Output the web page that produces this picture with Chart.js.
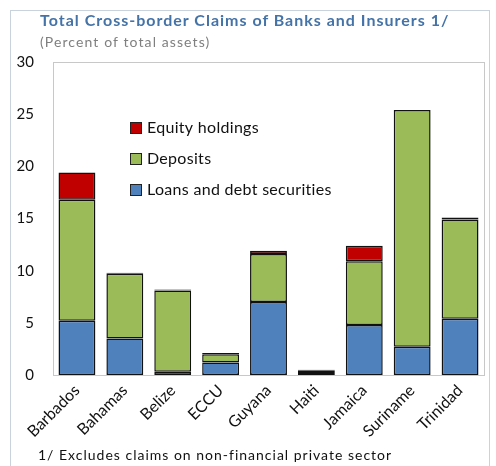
<!DOCTYPE html>
<html>
<head>
<meta charset="utf-8">
<script src="https://cdn.jsdelivr.net/npm/chart.js@4/dist/chart.umd.min.js"></script>
<style>
  html, body { margin: 0; padding: 0; background: #fff; }
  #wrap { position: relative; width: 496px; height: 466px; overflow: hidden; }
  #frame { position: absolute; left: 10px; top: 10px; width: 480px; height: 470px; border: 1px solid #c9d3dc; box-sizing: border-box; }
  canvas { position: absolute; left: 0; top: 0; }
  .t { position: absolute; white-space: nowrap; font-family: Lato, "Open Sans", sans-serif; }
  #title { left: 40px; top: 10px; font-size: 16px; font-weight: bold; color: #4473a8; letter-spacing: 1px; }
  #sub { left: 40px; top: 33px; font-size: 14px; color: #7f7f7f; letter-spacing: 1.1px; }
  #foot { left: 38px; top: 446px; font-size: 14px; color: #111; letter-spacing: 1px; }
</style>
</head>
<body>
<div id="wrap">
  <div id="frame"></div>
  <canvas id="c" width="496" height="466"></canvas>
  <div class="t" id="title">Total Cross-border Claims of Banks and Insurers 1/</div>
  <div class="t" id="sub">(Percent of total assets)</div>
  <div class="t" id="foot">1/ Excludes claims on non-financial private sector</div>
</div>
<script>
const categories = ["Barbados", "Bahamas", "Belize", "ECCU", "Guyana", "Haiti", "Jamaica", "Suriname", "Trinidad"];
const loans    = [5.2, 3.5, 0.3, 1.2, 7.0, 0.2, 4.8, 2.7, 5.4];
const deposits = [11.6, 6.2, 7.8, 0.8, 4.6, 0.2, 6.1, 22.7, 9.5];
const equity   = [2.6, 0.1, 0.1, 0.1, 0.3, 0.1, 1.5, 0.0, 0.2];
const yTicks   = [0, 5, 10, 15, 20, 25, 30];

const FONT = 'Lato, "Open Sans", sans-serif';

function fillFor(base) {
  return ctx => {
    const v = ctx.raw;
    return (v !== undefined && v < 0.25) ? '#111111' : base;
  };
}

const legendPlugin = {
  id: 'innerLegend',
  afterDraw(chart) {
    const ctx = chart.ctx;
    const items = [
      {label: chart.data.datasets[2].label, color: '#c00000'},
      {label: chart.data.datasets[1].label, color: '#9bbb59'},
      {label: chart.data.datasets[0].label, color: '#4f81bd'}
    ];
    ctx.save();
    ctx.font = '16px ' + FONT;
    if ('letterSpacing' in ctx) ctx.letterSpacing = '0.3px';
    ctx.textBaseline = 'middle';
    items.forEach((it, i) => {
      const y = 128 + i * 31;
      ctx.fillStyle = it.color;
      ctx.fillRect(130, y - 6, 12, 12);
      ctx.strokeStyle = '#222';
      ctx.lineWidth = 1;
      ctx.strokeRect(130.5, y - 5.5, 11, 11);
      ctx.fillStyle = '#111';
      ctx.fillText(it.label, 147, y);
    });
    ctx.restore();
  }
};

const borderPlugin = {
  id: 'areaBorder',
  afterDatasetsDraw(chart) {
    const a = chart.chartArea, ctx = chart.ctx;
    ctx.save();
    ctx.strokeStyle = '#c8c8c8';
    ctx.lineWidth = 1;
    ctx.strokeRect(Math.round(a.left) + 0.5, Math.round(a.top) + 0.5, Math.round(a.right - a.left), Math.round(a.bottom - a.top));
    ctx.restore();
  }
};

new Chart(document.getElementById('c'), {
  type: 'bar',
  data: {
    labels: categories,
    datasets: [
      {label: 'Loans and debt securities', data: loans, backgroundColor: fillFor('#4f81bd'), borderColor: '#111', borderWidth: 1.5, borderSkipped: false},
      {label: 'Deposits', data: deposits, backgroundColor: fillFor('#9bbb59'), borderColor: '#111', borderWidth: 1.5, borderSkipped: false},
      {label: 'Equity holdings', data: equity, backgroundColor: fillFor('#c00000'), borderColor: '#111', borderWidth: 1.5, borderSkipped: false}
    ]
  },
  options: {
    responsive: false,
    animation: false,
    events: [],
    layout: {padding: {top: 62, right: 12, left: 0, bottom: 0}},
    plugins: {legend: {display: false}, tooltip: {enabled: false}, title: {display: false}},
    datasets: {bar: {categoryPercentage: 0.77, barPercentage: 1.0}},
    scales: {
      x: {
        stacked: true,
        grid: {display: false, drawTicks: false},
        border: {display: false},
        ticks: {
          font: {family: FONT, size: 16},
          color: '#111',
          minRotation: 45,
          maxRotation: 45,
          padding: 6,
          autoSkip: false
        },
        afterFit(s) { s.height = 91; }
      },
      y: {
        stacked: true,
        min: 0,
        max: 30,
        afterBuildTicks(s) { s.ticks = yTicks.map(v => ({value: v})); },
        grid: {display: false, drawTicks: false},
        border: {display: false},
        ticks: {font: {family: FONT, size: 15}, color: '#111', padding: 19},
        afterFit(s) { s.width = 53; }
      }
    }
  },
  plugins: [borderPlugin, legendPlugin]
});
</script>
</body>
</html>
